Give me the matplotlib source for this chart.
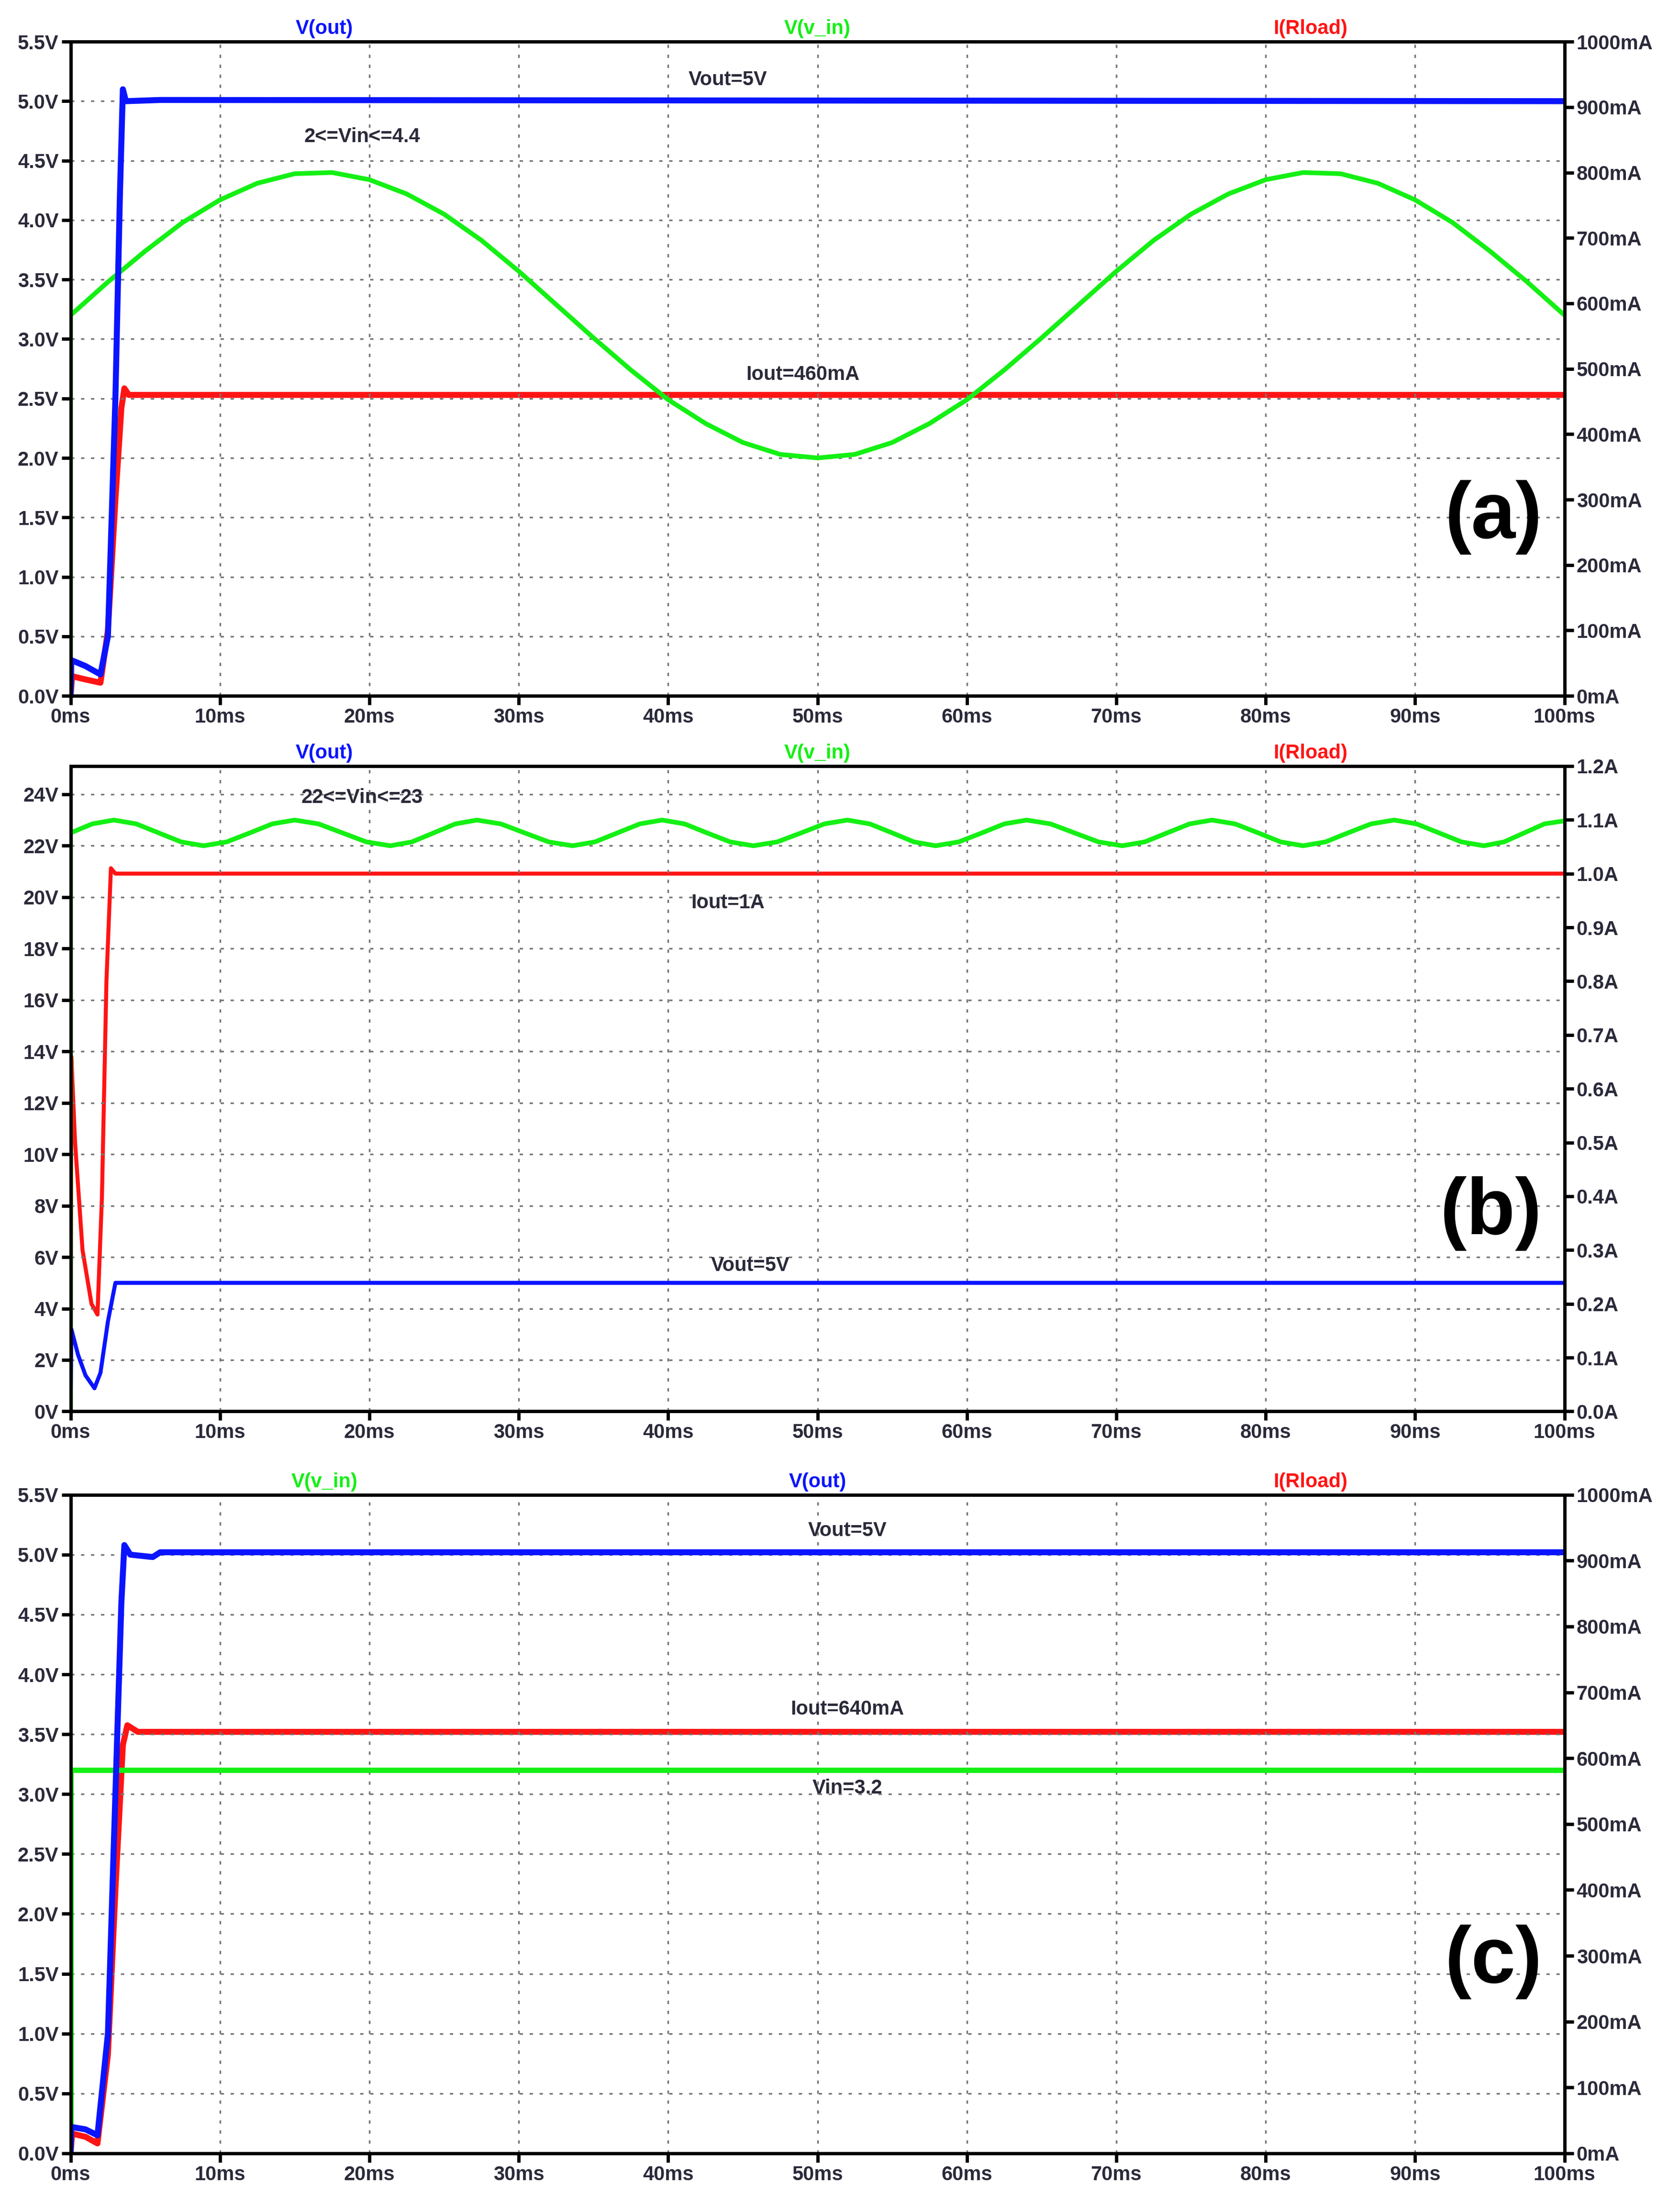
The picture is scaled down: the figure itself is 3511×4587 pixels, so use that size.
import matplotlib
matplotlib.use("Agg")
import matplotlib.pyplot as plt

plt.rcParams['font.family'] = ['Liberation Sans', 'DejaVu Sans']

# ---------------- data ----------------
# panel (a)
a_vin_t = [0, 0, 2.5, 5, 7.5, 10, 12.5, 15, 17.5, 20, 22.5, 25, 27.5, 30, 32.5, 35, 37.5, 40, 42.5, 45, 47.5,
           50, 52.5, 55, 57.5, 60, 62.5, 65, 67.5, 70, 72.5, 75, 77.5, 80, 82.5, 85, 87.5, 90, 92.5, 95, 97.5, 100]
a_vin_v = [0, 3.20, 3.48, 3.74, 3.98, 4.17, 4.31, 4.39, 4.40, 4.34, 4.22, 4.05, 3.83, 3.57, 3.29, 3.01, 2.74, 2.49,
           2.29, 2.13, 2.03, 2.00, 2.03, 2.13, 2.29, 2.49, 2.74, 3.01, 3.29, 3.57, 3.83, 4.05, 4.22, 4.34, 4.40,
           4.39, 4.31, 4.17, 3.98, 3.74, 3.48, 3.20]
a_vout_t = [0, 0.05, 1.0, 2.0, 2.5, 3.0, 3.3, 3.5, 3.7, 6, 100]
a_vout_v = [0, 0.30, 0.25, 0.18, 0.5, 2.5, 4.2, 5.1, 5.0, 5.01, 5.0]
a_iout_t = [0, 0.1, 1.0, 2.0, 2.5, 3.0, 3.4, 3.6, 3.9, 100]
a_iout_ma = [0, 30, 25, 20, 100, 300, 440, 470, 460, 460]

# panel (b)
b_vin_t = [0, 0, 1.45, 2.9, 4.4, 5.9, 7.4, 8.9, 10.45, 12.0, 13.5, 15.0, 16.6, 18.2, 19.8, 21.4, 22.85, 24.3,
           25.75, 27.2, 28.8, 30.4, 32.0, 33.6, 35.1, 36.6, 38.1, 39.6, 41.1, 42.6, 44.15, 45.7, 47.3, 48.9,
           50.45, 52.0, 53.5, 55.0, 56.45, 57.9, 59.45, 61.0, 62.5, 64.0, 65.6, 67.2, 68.8, 70.4, 71.9, 73.4,
           74.9, 76.4, 77.95, 79.5, 81.0, 82.5, 84.0, 85.5, 87.05, 88.6, 90.1, 91.6, 93.1, 94.6, 95.95, 97.3,
           98.65, 100]
b_vin_v = [0, 22.5, 22.85, 23.0, 22.85, 22.5, 22.15, 22.0, 22.15, 22.5, 22.85, 23.0, 22.85, 22.5, 22.15, 22.0,
           22.15, 22.5, 22.85, 23.0, 22.85, 22.5, 22.15, 22.0, 22.15, 22.5, 22.85, 23.0, 22.85, 22.5, 22.15,
           22.0, 22.15, 22.5, 22.85, 23.0, 22.85, 22.5, 22.15, 22.0, 22.15, 22.5, 22.85, 23.0, 22.85, 22.5,
           22.15, 22.0, 22.15, 22.5, 22.85, 23.0, 22.85, 22.5, 22.15, 22.0, 22.15, 22.5, 22.85, 23.0, 22.85,
           22.5, 22.15, 22.0, 22.15, 22.5, 22.85, 22.97]
b_vout_t = [0, 0.05, 0.5, 1.0, 1.6, 2.0, 2.5, 3.0, 100]
b_vout_v = [0, 3.2, 2.2, 1.4, 0.9, 1.5, 3.5, 5.0, 5.0]
b_iout_t = [0, 0.05, 0.3, 0.8, 1.4, 1.8, 2.1, 2.4, 2.7, 3.0, 100]
b_iout_a = [0, 0.66, 0.5, 0.3, 0.2, 0.18, 0.4, 0.8, 1.01, 1.0, 1.0]

# panel (c)
c_vin_t = [0, 0, 100]
c_vin_v = [0, 3.2, 3.2]
c_vout_t = [0, 0.05, 1.0, 1.8, 2.5, 3.0, 3.4, 3.6, 4.0, 5.5, 6.0, 100]
c_vout_v = [0, 0.22, 0.20, 0.15, 1.0, 3.0, 4.6, 5.08, 5.0, 4.98, 5.02, 5.02]
c_iout_t = [0, 0.1, 1.0, 1.8, 2.5, 3.0, 3.5, 3.8, 4.5, 100]
c_iout_ma = [0, 30, 25, 15, 150, 400, 620, 650, 640, 640]

x_ticks = list(range(0, 101, 10))
x_labels = [f"{t}ms" for t in x_ticks]
a_left_ticks = [0, 0.5, 1.0, 1.5, 2.0, 2.5, 3.0, 3.5, 4.0, 4.5, 5.0, 5.5]
a_left_labels = [f"{v:.1f}V" for v in a_left_ticks]
a_right_ticks = list(range(0, 1001, 100))
a_right_labels = [f"{v}mA" for v in a_right_ticks]
b_left_ticks = list(range(0, 25, 2))
b_left_labels = [f"{v}V" for v in b_left_ticks]
b_right_ticks = [0.0, 0.1, 0.2, 0.3, 0.4, 0.5, 0.6, 0.7, 0.8, 0.9, 1.0, 1.1, 1.2]
b_right_labels = [f"{v:.1f}A" for v in b_right_ticks]

BLUE = "#0a14ff"
GREEN = "#14f014"
RED = "#ff1414"
TXT = "#2a2a3a"

fig = plt.figure(figsize=(35.12, 45.87), dpi=100)

def setup(rect, xl, lticks, llabels, lmax, rticks, rlabels, rmax):
    ax = fig.add_axes(rect)
    ax2 = ax.twinx()
    ax.set_xlim(0, 100)
    ax.set_ylim(0, lmax)
    ax2.set_ylim(0, rmax)
    ax.set_xticks(x_ticks)
    ax.set_xticklabels(xl)
    ax.set_yticks(lticks)
    ax.set_yticklabels(llabels)
    ax2.set_yticks(rticks)
    ax2.set_yticklabels(rlabels)
    ax.grid(True, color="#777777", linestyle=(0, (2, 4)), linewidth=2.5)
    for a in (ax, ax2):
        for s in a.spines.values():
            s.set_linewidth(5)
            s.set_color("black")
        a.tick_params(length=14, width=5, labelsize=30, labelcolor=TXT, pad=4)
        for lab in a.get_xticklabels() + a.get_yticklabels():
            lab.set_fontweight("bold")
    ax.set_zorder(ax2.get_zorder() + 1)
    ax.patch.set_visible(False)
    return ax, ax2

def names(ax, items):
    for x, s, c in items:
        ax.text(x, 1.005, s, transform=ax.transAxes, color=c, fontsize=30,
                fontweight="bold", ha="center", va="bottom")

FS = 30
L, W = 0.042, 0.889

# (a)
ax, ax2 = setup([L, 0.683, W, 0.298], x_labels, a_left_ticks, a_left_labels, 5.5,
                a_right_ticks, a_right_labels, 1000)
ax2.plot(a_iout_t, a_iout_ma, color=RED, lw=9, solid_joinstyle="round")
ax.plot(a_vin_t, a_vin_v, color=GREEN, lw=7, solid_joinstyle="round")
ax.plot(a_vout_t, a_vout_v, color=BLUE, lw=9, solid_joinstyle="round")
names(ax, [(0.17, "V(out)", BLUE), (0.5, "V(v_in)", GREEN), (0.83, "I(Rload)", RED)])
ax.text(44, 5.1, "Vout=5V", fontsize=FS, fontweight="bold", color=TXT, ha="center", va="bottom")
ax.text(19.5, 4.62, "2<=Vin<=4.4", fontsize=FS, fontweight="bold", color=TXT, ha="center", va="bottom")
ax.text(49, 2.62, "Iout=460mA", fontsize=FS, fontweight="bold", color=TXT, ha="center", va="bottom")
ax.text(98.5, 1.5, "(a)", fontsize=120, fontweight="bold", color="black", ha="right", va="center")

# (b)
ax, ax2 = setup([L, 0.357, W, 0.294], x_labels, b_left_ticks, b_left_labels, 25.1,
                b_right_ticks, b_right_labels, 1.2)
ax.plot(b_vin_t, b_vin_v, color=GREEN, lw=7, solid_joinstyle="round")
ax2.plot(b_iout_t, b_iout_a, color=RED, lw=6, solid_joinstyle="round")
ax.plot(b_vout_t, b_vout_v, color=BLUE, lw=6, solid_joinstyle="round")
names(ax, [(0.17, "V(out)", BLUE), (0.5, "V(v_in)", GREEN), (0.83, "I(Rload)", RED)])
ax.text(19.5, 23.5, "22<=Vin<=23", fontsize=FS, fontweight="bold", color=TXT, ha="center", va="bottom")
ax.text(44, 19.4, "Iout=1A", fontsize=FS, fontweight="bold", color=TXT, ha="center", va="bottom")
ax.text(45.5, 5.3, "Vout=5V", fontsize=FS, fontweight="bold", color=TXT, ha="center", va="bottom")
ax.text(98.5, 7.7, "(b)", fontsize=120, fontweight="bold", color="black", ha="right", va="center")

# (c)
ax, ax2 = setup([L, 0.019, W, 0.300], x_labels, a_left_ticks, a_left_labels, 5.5,
                a_right_ticks, a_right_labels, 1000)
ax.plot(c_vin_t, c_vin_v, color=GREEN, lw=8)
ax2.plot(c_iout_t, c_iout_ma, color=RED, lw=9, solid_joinstyle="round")
ax.plot(c_vout_t, c_vout_v, color=BLUE, lw=9, solid_joinstyle="round")
names(ax, [(0.17, "V(v_in)", GREEN), (0.5, "V(out)", BLUE), (0.83, "I(Rload)", RED)])
ax.text(52, 5.12, "Vout=5V", fontsize=FS, fontweight="bold", color=TXT, ha="center", va="bottom")
ax.text(52, 3.63, "Iout=640mA", fontsize=FS, fontweight="bold", color=TXT, ha="center", va="bottom")
ax.text(52, 3.13, "Vin=3.2", fontsize=FS, fontweight="bold", color=TXT, ha="center", va="top")
ax.text(98.5, 1.6, "(c)", fontsize=120, fontweight="bold", color="black", ha="right", va="center")

fig.savefig("out.png", dpi=100)
